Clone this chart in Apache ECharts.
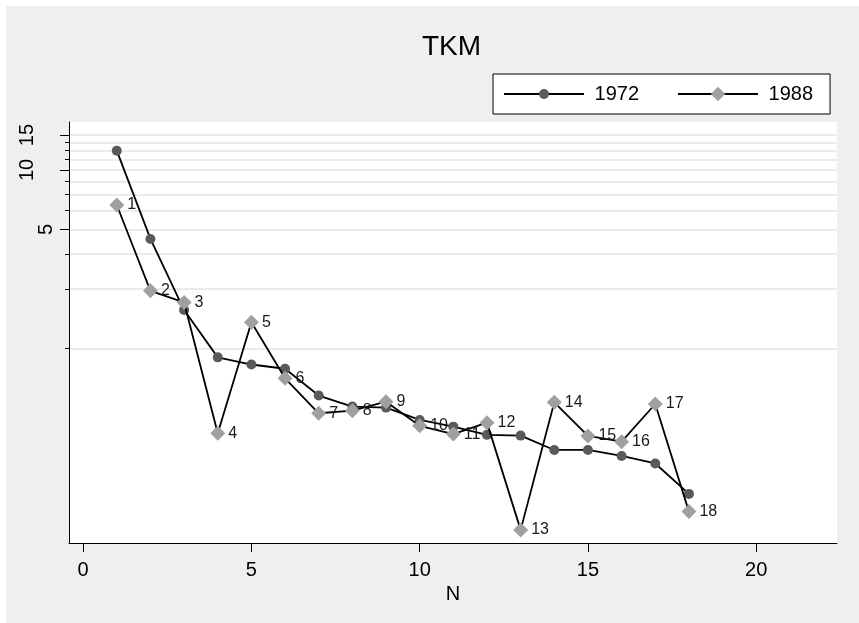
<!DOCTYPE html>
<html>
<head>
<meta charset="utf-8">
<script src="https://cdn.jsdelivr.net/npm/echarts@6/dist/echarts.min.js"></script>
<style>
  html, body { margin: 0; padding: 0; background: #ffffff; }
  #chart { position: absolute; left: 6px; top: 6px; width: 853px; height: 617px; }
</style>
</head>
<body>
<div id="chart"></div>
<script>
// ---- data ----
const N = [1, 2, 3, 4, 5, 6, 7, 8, 9, 10, 11, 12, 13, 14, 15, 16, 17, 18];
const tkm1972 = [12.5, 4.48, 1.96, 1.13, 1.04, 0.99, 0.725, 0.638, 0.63, 0.546, 0.505, 0.459, 0.455, 0.385, 0.385, 0.359, 0.329, 0.231];
const tkm1988 = [6.65, 2.45, 2.14, 0.468, 1.70, 0.886, 0.59, 0.608, 0.675, 0.51, 0.463, 0.529, 0.152, 0.67, 0.453, 0.424, 0.657, 0.188];
const seriesNames = ['1972', '1988'];
const xTicks = [0, 5, 10, 15, 20];
const yMinorTicks = [1.25, 2.5, 3.75, 5, 6.25, 7.5, 8.75, 10, 11.25, 12.5, 13.75, 15];
const yMajorTicks = [5, 10, 15];
const yLabelsNear = [5];
const yLabelsFar = [10, 15];
const xRange = [-0.42, 22.4];
const yRange = [0.1305, 17.45];

const FONT = 'Liberation Sans, Arial, sans-serif';
const chart = echarts.init(document.getElementById('chart'));

const pairs = arr => N.map((n, i) => [n, arr[i]]);

const yBase = {
  type: 'log', logBase: 10, min: yRange[0], max: yRange[1], position: 'left', gridIndex: 0
};
const legendText = { fontSize: 20, color: '#000', fontFamily: FONT, height: 20, lineHeight: 20 };

chart.setOption({
  backgroundColor: '#efefef',
  animation: false,
  textStyle: { fontFamily: FONT },
  title: {
    text: 'TKM', left: 411, top: 22, textAlign: 'left',
    textStyle: { fontSize: 28, fontWeight: 'normal', color: '#000', fontFamily: FONT }
  },
  legend: [
    {
      data: [seriesNames[0]], left: 487, top: 68, orient: 'horizontal',
      itemWidth: 80, itemHeight: 12.5,
      padding: [10, 191, 10, 10],
      borderColor: '#000', borderWidth: 1, backgroundColor: '#fff', borderRadius: 0,
      formatter: name => ' ' + name,
      textStyle: legendText, z: 4
    },
    {
      data: [seriesNames[1]], left: 671, top: 68, orient: 'horizontal',
      itemWidth: 80, itemHeight: 18,
      padding: [10, 0, 10, 0],
      borderWidth: 0, backgroundColor: 'transparent',
      formatter: name => ' ' + name,
      textStyle: legendText, z: 5
    }
  ],
  grid: {
    left: 63, top: 116, right: 22, bottom: 80,
    show: true, backgroundColor: '#fff', borderWidth: 0,
    containLabel: false, outerBoundsMode: 'none'
  },
  xAxis: {
    type: 'value', min: xRange[0], max: xRange[1],
    name: 'N', nameLocation: 'middle', nameGap: 35,
    nameTextStyle: { fontSize: 20, color: '#000', fontFamily: FONT },
    axisLine: { show: true, onZero: false, lineStyle: { color: '#000', width: 1 } },
    axisTick: { show: true, length: 9, customValues: xTicks, lineStyle: { color: '#000', width: 1 } },
    axisLabel: { customValues: xTicks, margin: 17, fontSize: 20, color: '#000', fontFamily: FONT },
    splitLine: { show: false }
  },
  yAxis: [
    Object.assign({}, yBase, {
      axisLine: { show: true, onZero: false, lineStyle: { color: '#000', width: 1 } },
      axisTick: { show: true, length: 4, customValues: yMinorTicks, lineStyle: { color: '#000', width: 1 } },
      axisLabel: { show: false },
      splitLine: { show: true, lineStyle: { color: '#e4e4e4', width: 1.6 } },
      minorTick: { show: false }, minorSplitLine: { show: false }
    }),
    Object.assign({}, yBase, {
      axisLine: { show: false, onZero: false },
      axisTick: { show: true, length: 9, customValues: yMajorTicks, lineStyle: { color: '#000', width: 1 } },
      axisLabel: { show: true, customValues: yLabelsNear, rotate: 90, margin: 13, fontSize: 20, color: '#000', fontFamily: FONT, formatter: v => String(v) },
      splitLine: { show: false }
    }),
    Object.assign({}, yBase, {
      axisLine: { show: false, onZero: false },
      axisTick: { show: false },
      axisLabel: { show: true, customValues: yLabelsFar, rotate: 90, margin: 32, fontSize: 20, color: '#000', fontFamily: FONT, formatter: v => String(v) },
      splitLine: { show: false }
    })
  ],
  series: [
    {
      name: seriesNames[0], type: 'line', yAxisIndex: 0,
      data: pairs(tkm1972),
      symbol: 'circle', symbolSize: 10,
      lineStyle: { color: '#000', width: 1.8 },
      itemStyle: { color: '#5a5a5a', borderWidth: 0 },
      z: 2
    },
    {
      name: seriesNames[1], type: 'line', yAxisIndex: 0,
      data: pairs(tkm1988),
      symbol: 'diamond', symbolSize: 15,
      lineStyle: { color: '#000', width: 1.8 },
      itemStyle: { color: '#a0a0a0', borderWidth: 0 },
      label: {
        show: true, position: 'right', distance: 3, fontSize: 16, color: '#1a1a1a', fontFamily: FONT,
        formatter: p => String(p.value[0])
      },
      labelLayout: { hideOverlap: false },
      z: 3
    }
  ]
});
</script>
</body>
</html>
